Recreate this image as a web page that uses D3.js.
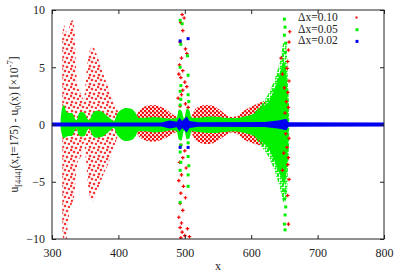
<!DOCTYPE html>
<html>
<head>
<meta charset="utf-8">
<script src="https://cdn.jsdelivr.net/npm/d3@7"></script>
<style>
body { margin: 0; background: #fff; }
svg text { font-family: "Liberation Serif", "Times New Roman", Times, serif; fill: #222; }
</style>
</head>
<body>
<div id="chart"></div>
<script>
// envelopes: [x, upper, lower] in units of 1e-7
var redSparseBand = [
    [315.5, 7.6, -9.0], [318, 8.7, -10.5], [321, 8.2, -10.5], [324, 7.9, -8.8],
    [327, 8.8, -7.4], [331, 9.1, -6.8], [334, 8.3, -6.0], [336, 5.2, -4.5],
    [339, 3.4, -3.2], [344, 2.6, -2.8], [348, 2.2, -1.6], [351, 4.0, -3.0],
    [355, 6.0, -5.6], [359, 6.7, -6.6], [362, 6.8, -6.7], [366, 6.3, -6.2],
    [372, 5.4, -5.2], [378, 4.3, -4.3], [385, 3.2, -3.4], [392, 2.1, -2.2],
    [398, 1.3, -1.2], [402, 0.8, -0.5], [404, 0.3, -0.2]
];
var redLobeA = [
    [425, 0.3, -0.3], [429, 1.0, -0.9], [435, 1.4, -1.25], [444, 1.65, -1.45],
    [452, 1.7, -1.5], [462, 1.6, -1.4], [472, 1.3, -1.15], [481, 0.9, -0.85],
    [489, 0.65, -0.6]
];
var redLobeB = [
    [509, 0.5, -0.5], [514, 1.2, -1.2], [521, 1.55, -1.55], [531, 1.7, -1.7],
    [541, 1.65, -1.65], [551, 1.35, -1.35], [561, 0.9, -0.95], [570, 0.65, -0.7],
    [579, 0.75, -0.85], [589, 1.2, -1.3], [600, 1.55, -1.6], [611, 1.85, -1.8],
    [619, 2.0, -1.85], [624, 1.6, -1.5], [627, 0.8, -0.8]
];
var greenBand = [
    [313, 0.4, -0.4], [315.5, 1.5, -1.0], [318, 1.7, -1.2], [321, 1.2, -1.1],
    [325, 1.0, -1.0], [330, 1.0, -1.0], [334, 0.6, -0.6], [337, 0.35, -0.35],
    [340, 0.9, -0.9], [344, 1.1, -1.05], [349, 1.0, -1.0], [353, 0.55, -0.55],
    [356, 0.35, -0.35], [361, 0.95, -0.95], [367, 1.2, -1.15], [374, 1.15, -1.1],
    [382, 0.8, -0.8], [389, 0.45, -0.45], [393, 0.3, -0.3], [398, 0.9, -0.9],
    [405, 1.3, -1.3], [412, 1.45, -1.45], [420, 1.35, -1.35], [426, 1.0, -1.0],
    [430, 0.6, -0.6], [440, 0.6, -0.6], [455, 0.65, -0.7], [470, 0.55, -0.6],
    [480, 0.5, -0.5], [488, 0.6, -0.6], [491, 1.3, -1.3], [495, 1.2, -1.4],
    [499, 0.5, -0.5], [503, 1.4, -1.3], [507, 1.2, -1.2], [510, 0.6, -0.6],
    [520, 0.6, -0.65], [540, 0.7, -0.75], [560, 0.6, -0.65], [575, 0.55, -0.6],
    [590, 0.7, -0.75], [600, 0.85, -0.9], [610, 1.15, -1.2], [618, 1.6, -1.6],
    [625, 1.9, -2.0], [633, 2.8, -2.9], [640, 3.9, -3.9], [645, 4.8, -4.6],
    [649, 5.5, -5.2], [653, 4.5, -4.2], [656, 0.6, -0.6]
];
// thinner, speckled outer part of the cone
var greenCone = [
    [605, 1.1, -1.1], [615, 1.8, -1.9], [625, 2.6, -2.7], [633, 3.6, -3.7],
    [640, 4.8, -4.9], [645, 6.0, -6.0], [649, 7.2, -6.8], [653, 7.0, -6.6],
    [656, 3.0, -3.0], [658, 0.5, -0.5]
];
// blue: half thickness of the band round zero
var blueBand = [
    [300, 0.18], [465, 0.18], [477, 0.35], [488, 0.25], [492, 0.6], [496, 0.3],
    [503, 0.7], [507, 0.3], [520, 0.2], [620, 0.22], [640, 0.35], [653, 0.5],
    [656, 0.2], [800, 0.18]
];

// scattered points [x, y]
var redPts = [
    [496, 9.6], [499, 9.3], [494, 8.9], [497, 8.2], [493, 7.2], [501, 6.6], [503, 6.2],
    [495, 5.8], [492, 5.2], [497, 4.7], [491, 4.4], [494, 4.1], [500, 3.7], [503, 3.3],
    [497, 3.0], [495, 2.6], [490, 2.3], [501, 1.8], [493, 1.6], [505, 1.5],
    [494, -1.8], [500, -2.3], [497, -2.9], [492, -3.3], [502, -3.8], [495, -4.4],
    [491, -4.9], [498, -5.4], [494, -6.0], [501, -6.4], [493, -6.9], [497, -7.5],
    [491, -8.1], [495, -8.6], [493, -9.0], [496, -9.4], [500, -9.7], [494, -9.9],
    [507, -9.8], [504, -9.1],
    [658, 8.1], [657, 7.2], [656, 6.5], [655, 5.5], [654, 4.9], [657, 3.8], [655, 2.8],
    [653, 2.0], [656, 1.5], [657, -1.2], [654, -2.0], [656, -2.9], [655, -3.5],
    [657, -4.8], [655, -6.2], [656, -8.7], [645, 5.8], [647, 4.4], [650, 3.2],
    [652, -0.8], [651, 1.0], [649, -2.5], [647, -4.0]
];
var greenPts = [
    [493, 9.1], [496, 8.8], [494, 7.0], [504, 6.0], [493, 5.0], [505, 4.3], [494, 3.4],
    [493, 2.9], [505, 2.6], [494, 2.2], [506, 2.0], [493, 1.7], [505, -1.6], [494, -1.8],
    [493, -2.4], [505, -2.8], [494, -3.3], [506, -3.6], [493, -4.0], [505, -4.4],
    [493, -6.8], [505, -5.4],
    [650, 9.2], [651, 8.5], [650, 7.8], [652, 7.1], [651, 6.3], [651, -5.8], [650, -6.5],
    [652, -7.2], [651, -7.9], [650, -8.7], [651, -9.2]
];
var bluePts = [
    [493, 7.3], [505, 7.5], [493, -2.0], [505, -2.0]
];

var seriesNames = ["\u0394x=0.10", "\u0394x=0.05", "\u0394x=0.02"];
var xTicks = [300, 400, 500, 600, 700, 800];
var yTicks = [-10, -5, 0, 5, 10];

var svgWidth = 415;
var svgHeight = 276;
var margin = { top: 10, right: 31, bottom: 37, left: 52 };
var width = svgWidth - margin.left - margin.right;
var height = svgHeight - margin.top - margin.bottom;

var red = "#f00000";
var green = "#00f000";
var blue = "#0000f0";

var svg = d3.select("#chart")
    .append("svg")
    .attr("width", svgWidth)
    .attr("height", svgHeight);

var defs = svg.append("defs");
defs.append("clipPath").attr("id", "plotClip")
    .append("rect").attr("width", width).attr("height", height);

// '+' marks tiled as a texture
function crossPattern(id, size, spots, w) {
    var p = defs.append("pattern")
        .attr("id", id)
        .attr("patternUnits", "userSpaceOnUse")
        .attr("width", size)
        .attr("height", size);
    spots.forEach(function(s) {
        p.append("path")
            .attr("d", `M${s[0] - 1.3},${s[1]}h2.6M${s[0]},${s[1] - 1.3}v2.6`)
            .attr("stroke", red)
            .attr("stroke-width", w);
    });
}
crossPattern("redSparse", 9, [[2, 2], [6, 3], [4, 7], [8, 8], [1, 5]], 1.1);
crossPattern("redDense", 4, [[1, 1], [3, 3]], 1.4);

var gp = defs.append("pattern")
    .attr("id", "greenSpeck")
    .attr("patternUnits", "userSpaceOnUse")
    .attr("width", 5)
    .attr("height", 5);
[[1, 1], [3.5, 3.5], [4, 1.5], [1, 4]].forEach(function(s) {
    gp.append("circle").attr("cx", s[0]).attr("cy", s[1]).attr("r", 1.1).attr("fill", green);
});

var chartGroup = svg.append("g")
    .attr("transform", `translate(${margin.left}, ${margin.top})`);

var xScale = d3.scaleLinear().domain([300, 800]).range([0, width]);
var yScale = d3.scaleLinear().domain([-10, 10]).range([height, 0]);

var band = d3.area()
    .x(d => xScale(d[0]))
    .y0(d => yScale(d[2]))
    .y1(d => yScale(d[1]))
    .curve(d3.curveMonotoneX);

var plot = chartGroup.append("g").attr("clip-path", "url(#plotClip)");

// red first, then green, then blue, as gnuplot stacks them
plot.append("path").datum(redSparseBand).attr("d", band).attr("fill", "url(#redSparse)");
[redLobeA, redLobeB].forEach(function(lobe) {
    plot.append("path").datum(lobe).attr("d", band).attr("fill", "url(#redDense)");
});

plot.append("path").datum(greenCone).attr("d", band).attr("fill", "url(#greenSpeck)");
plot.append("path").datum(greenBand).attr("d", band).attr("fill", green);

var cross = d3.symbol().type(d3.symbolCross).size(7);
plot.selectAll(".rpt")
    .data(redPts)
    .enter()
    .append("path")
    .attr("class", "rpt")
    .attr("transform", d => `translate(${xScale(d[0])},${yScale(d[1])})`)
    .attr("d", cross)
    .attr("fill", red);

plot.selectAll(".gpt")
    .data(greenPts)
    .enter()
    .append("rect")
    .attr("class", "gpt")
    .attr("x", d => xScale(d[0]) - 1.5)
    .attr("y", d => yScale(d[1]) - 1.5)
    .attr("width", 3)
    .attr("height", 3)
    .attr("fill", green);

plot.append("path")
    .datum(blueBand)
    .attr("d", d3.area()
        .x(d => xScale(d[0]))
        .y0(d => yScale(-d[1]))
        .y1(d => yScale(d[1]))
        .curve(d3.curveLinear))
    .attr("fill", blue);
plot.selectAll(".bpt")
    .data(bluePts)
    .enter()
    .append("rect")
    .attr("class", "bpt")
    .attr("x", d => xScale(d[0]) - 1.5)
    .attr("y", d => yScale(d[1]) - 1.5)
    .attr("width", 3)
    .attr("height", 3)
    .attr("fill", blue);

// axes with ticks inside, mirrored
var axisStyle = function(g) {
    g.attr("font-family", null);
    g.select(".domain").remove();
    g.selectAll(".tick line").attr("stroke", "#222");
    g.selectAll(".tick text").attr("font-size", 12).attr("fill", "#222");
};
chartGroup.append("g")
    .attr("transform", `translate(0, ${height})`)
    .call(d3.axisBottom(xScale).tickValues(xTicks).tickSize(-4).tickPadding(9))
    .call(axisStyle);
chartGroup.append("g")
    .call(d3.axisTop(xScale).tickValues(xTicks).tickSize(-4).tickFormat(""))
    .call(axisStyle);
chartGroup.append("g")
    .call(d3.axisLeft(yScale).tickValues(yTicks).tickSize(-4).tickPadding(7))
    .call(axisStyle);
chartGroup.append("g")
    .attr("transform", `translate(${width}, 0)`)
    .call(d3.axisRight(yScale).tickValues(yTicks).tickSize(-4).tickFormat(""))
    .call(axisStyle);

chartGroup.append("rect")
    .attr("width", width)
    .attr("height", height)
    .attr("fill", "none")
    .attr("stroke", "#222")
    .attr("stroke-width", 1);

// legend
var legend = chartGroup.append("g").attr("transform", "translate(246, 7)");
var legendColors = [red, green, blue];
seriesNames.forEach(function(name, i) {
    var row = legend.append("g").attr("transform", `translate(0, ${i * 11.7})`);
    row.append("text")
        .attr("x", 0)
        .attr("y", 4)
        .attr("font-size", 11.5)
        .text(name);
    row.append("rect")
        .attr("x", 57.5)
        .attr("y", -0.5)
        .attr("width", i === 0 ? 2 : 3)
        .attr("height", i === 0 ? 2 : 3)
        .attr("fill", legendColors[i]);
});

// axis titles
chartGroup.append("text")
    .attr("x", width / 2)
    .attr("y", height + 31)
    .attr("text-anchor", "middle")
    .attr("font-size", 12)
    .text("x");

var ylab = chartGroup.append("text")
    .attr("transform", `translate(${-34}, ${height / 2}) rotate(-90)`)
    .attr("text-anchor", "middle")
    .attr("font-size", 11.5);
ylab.append("tspan").text("u");
ylab.append("tspan").attr("font-size", 8.5).attr("dy", 3).text("[444]");
ylab.append("tspan").attr("dy", -3).text("(x,t=175) - u");
ylab.append("tspan").attr("font-size", 8.5).attr("dy", 3).text("0");
ylab.append("tspan").attr("dy", -3).text("(x) [\u00d710");
ylab.append("tspan").attr("font-size", 8.5).attr("dy", -5).text("-7");
ylab.append("tspan").attr("dy", 5).text("]");
</script>
</body>
</html>
